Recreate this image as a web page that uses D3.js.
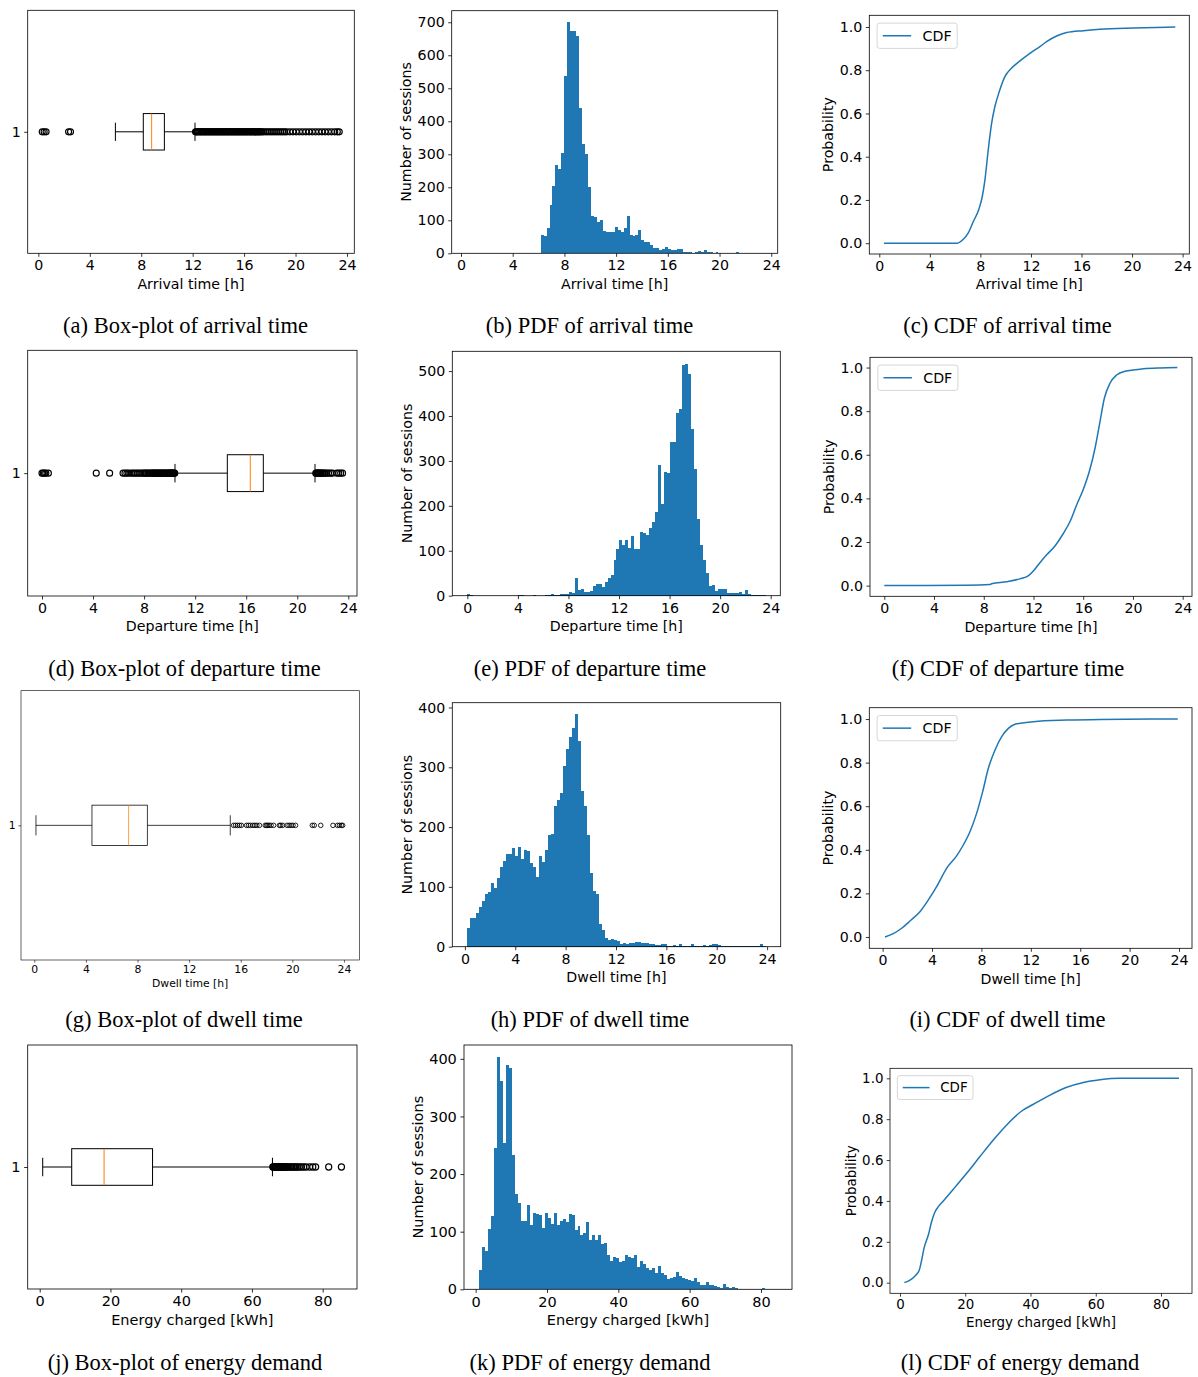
<!DOCTYPE html>
<html>
<head>
<meta charset="utf-8">
<script src="https://cdn.jsdelivr.net/npm/d3@7"></script>
<style>
  body { margin: 0; background: #fff; }
  svg { display: block; }
</style>
</head>
<body>
<svg id="chart" width="1198" height="1377"></svg>
<script>
// ---- tick labels ----
const hourTicks = [0, 4, 8, 12, 16, 20, 24];
const energyTicks = [0, 20, 40, 60, 80];
const probTicks = [0, 0.2, 0.4, 0.6, 0.8, 1.0];

// ---- box plots: [whisker low, Q1, median, Q3, whisker high] ----
const arrivalBox = [5.99, 8.16, 8.81, 9.80, 12.18];
const departureBox = [10.42, 14.52, 16.32, 17.34, 21.39];
const dwellBox = [0.13, 4.47, 7.31, 8.76, 15.19];
const energyBox = [0.85, 9.05, 18.2, 31.9, 65.8];

const arrivalFliers = [0.3, 0.45, 0.6, 2.35, 2.5,
  12.22, 12.28, 12.35, 12.42, 12.5, 12.58, 12.65, 12.72, 12.8, 12.88, 12.95, 13.02, 13.1, 13.18,
  13.25, 13.32, 13.4, 13.48, 13.55, 13.62, 13.7, 13.78, 13.85, 13.92, 14.0, 14.08, 14.15, 14.22,
  14.3, 14.38, 14.45, 14.52, 14.6, 14.68, 14.75, 14.82, 14.9, 14.98, 15.05, 15.12, 15.2, 15.28,
  15.35, 15.42, 15.5, 15.58, 15.65, 15.72, 15.8, 15.88, 15.95, 16.02, 16.1, 16.18, 16.25, 16.32,
  16.4, 16.48, 16.55, 16.62, 16.7, 16.78, 16.85, 16.92, 17.0, 17.08, 17.15, 17.22, 17.3, 17.4,
  17.5, 17.65, 17.8, 17.95, 18.1, 18.25, 18.4, 18.55, 18.7, 18.85, 19.0, 19.15, 19.3, 19.55, 19.8,
  20.05, 20.3, 20.55, 20.8, 21.05, 21.3, 21.55, 21.8, 22.05, 22.3, 22.55, 22.8, 23.05, 23.25, 23.4];
const departureFliers = [0.0, 0.1, 0.2, 0.3, 0.5, 4.25, 5.3, 6.35, 6.5, 6.65, 6.8, 7.0, 7.15, 7.3,
  7.45, 7.6, 7.75, 7.9, 8.0, 8.1, 8.2, 8.3, 8.4, 8.5, 8.6, 8.67, 8.75, 8.82, 8.9, 8.97, 9.05, 9.12,
  9.2, 9.27, 9.35, 9.42, 9.5, 9.57, 9.65, 9.72, 9.8, 9.87, 9.95, 10.0, 10.05, 10.1, 10.15, 10.2,
  10.25, 10.3, 10.35, 10.4,
  21.45, 21.5, 21.55, 21.6, 21.65, 21.7, 21.75, 21.8, 21.87, 21.95, 22.02, 22.1, 22.2, 22.3, 22.45,
  22.6, 22.75, 23.1, 23.25, 23.4, 23.55];
const dwellFliers = [15.45, 15.6, 15.75, 15.9, 16.05, 16.45, 16.6, 16.75, 16.95, 17.1, 17.25, 17.45,
  17.9, 18.0, 18.1, 18.2, 18.35, 18.55, 19.0, 19.1, 19.25, 19.6, 19.75, 19.9, 20.05, 20.25, 21.55,
  21.7, 22.2, 23.15, 23.5, 23.65, 23.8, 23.9];
const energyFliers = [65.9, 66.1, 66.3, 66.5, 66.7, 66.9, 67.1, 67.3, 67.5, 67.7, 67.9, 68.1, 68.3,
  68.5, 68.7, 68.9, 69.1, 69.3, 69.5, 69.8, 70.1, 70.5, 70.9, 71.3, 71.7, 72.1, 72.5, 72.9, 73.4,
  74.0, 74.6, 75.3, 76.3, 77.2, 78.0, 81.7, 85.3];

// ---- histograms: first bin edge, bin width, counts ----
const arrivalBinStart = 6.16, arrivalBinWidth = 0.2293;
const arrivalCounts = [55, 52, 77, 146, 204, 268, 255, 304, 538, 700, 673, 673, 658, 440, 331, 301,
  201, 113, 109, 96, 101, 69, 65, 65, 65, 80, 72, 65, 77, 112, 55, 52, 55, 71, 40, 35, 35, 25, 15,
  15, 10, 12, 19, 13, 10, 9, 12, 14, 5, 4, 4, 2, 3, 6, 4, 9, 4, 3, 2, 4, 2, 1, 1, 1, 2, 1, 4, 1, 0,
  1, 0, 1, 0, 0, 1];

const departureBinStart = 0, departureBinWidth = 0.236;
const departureCounts = [3, 1, 0, 0, 0, 0, 0, 0, 0, 0, 0, 0, 0, 0, 0, 0, 0, 1, 1, 0, 0, 0, 1, 0, 0,
  0, 1, 1, 3, 1, 1, 3, 3, 3, 8, 5, 40, 12, 14, 8, 8, 10, 21, 25, 25, 20, 31, 40, 47, 80, 105, 123,
  113, 123, 107, 132, 103, 105, 142, 140, 136, 150, 163, 187, 291, 203, 276, 274, 342, 342, 406,
  416, 513, 516, 493, 371, 282, 170, 113, 80, 50, 22, 23, 10, 14, 16, 14, 7, 5, 5, 7, 9, 3, 12, 4,
  2, 1, 1, 1, 1];

const dwellBinStart = 0.2, dwellBinWidth = 0.237;
const dwellCounts = [32, 48, 48, 56, 66, 76, 88, 92, 106, 98, 115, 133, 143, 155, 155, 165, 151, 166,
  146, 161, 160, 140, 133, 116, 151, 141, 161, 187, 188, 235, 245, 257, 302, 330, 350, 365, 389,
  344, 260, 235, 187, 123, 93, 88, 38, 28, 14, 12, 13, 12, 10, 4, 6, 4, 6, 6, 8, 8, 7, 7, 7, 4, 4, 3,
  3, 4, 4, 2, 1, 3, 2, 4, 1, 1, 2, 5, 2, 1, 1, 3, 1, 3, 4, 4, 3, 1, 1, 1, 1, 2, 2, 1, 2, 1, 1, 2, 2,
  1, 4, 2];

const energyBinStart = 1.0, energyBinWidth = 0.835;
const energyCounts = [34, 74, 67, 105, 127, 245, 403, 362, 254, 390, 384, 233, 166, 150, 119, 119,
  146, 112, 133, 131, 129, 107, 133, 124, 113, 133, 112, 119, 122, 117, 131, 129, 103, 110, 94, 98,
  117, 86, 94, 86, 94, 79, 80, 60, 49, 56, 54, 47, 49, 60, 56, 54, 60, 39, 49, 44, 37, 34, 37, 28,
  41, 28, 25, 18, 20, 21, 30, 23, 20, 18, 16, 14, 20, 13, 8, 8, 13, 8, 8, 6, 4, 2, 10, 4, 3, 4, 2,
  1, 1, 1, 1, 1, 1, 1, 1, 3, 1, 1, 0, 1];

// ---- empirical CDFs ----
const arrivalCdfX = [0.37, 6.17, 6.65, 7.03, 7.44, 7.88, 8.15, 8.36, 8.62, 8.89, 9.15, 9.49, 9.94,
  10.47, 11.13, 11.92, 12.71, 13.24, 14.03, 14.82, 16.14, 17.46, 20.1, 23.42];
const arrivalCdfY = [0, 0, 0.018, 0.046, 0.10, 0.157, 0.216, 0.293, 0.431, 0.555, 0.632, 0.70, 0.77,
  0.81, 0.843, 0.878, 0.909, 0.932, 0.958, 0.974, 0.983, 0.989, 0.995, 1.0];
const departureCdfX = [0, 6.6, 8.5, 8.63, 9.84, 10.9, 11.6, 11.99, 12.39, 13.06, 13.73, 14.4, 14.94,
  15.47, 16.01, 16.49, 16.95, 17.35, 17.7, 18.15, 18.69, 19.36, 20.84, 22.18, 23.57];
const departureCdfY = [0, 0.002, 0.005, 0.009, 0.018, 0.031, 0.046, 0.067, 0.096, 0.141, 0.182,
  0.239, 0.294, 0.37, 0.442, 0.523, 0.63, 0.752, 0.859, 0.928, 0.966, 0.983, 0.994, 0.998, 1.0];
const dwellCdfX = [0.19, 0.86, 1.54, 2.21, 3.02, 3.7, 4.37, 5.18, 5.99, 6.53, 7.07, 7.61, 8.1, 8.56,
  9.1, 9.64, 10.18, 10.72, 12.2, 14.9, 17.6, 23.9];
const dwellCdfY = [0, 0.015, 0.04, 0.073, 0.116, 0.17, 0.231, 0.315, 0.372, 0.422, 0.483, 0.567,
  0.667, 0.774, 0.858, 0.919, 0.957, 0.976, 0.988, 0.995, 0.998, 1.0];
const energyCdfX = [1.33, 3.06, 4.6, 5.92, 6.64, 7.35, 8.68, 9.7, 10.73, 11.75, 13.28, 16.34, 20.43,
  24.5, 28.6, 32.7, 37.3, 40.9, 46.0, 51.1, 56.2, 61.3, 67.4, 85.5];
const energyCdfY = [0, 0.013, 0.033, 0.062, 0.111, 0.168, 0.233, 0.299, 0.347, 0.372, 0.40, 0.457,
  0.535, 0.617, 0.698, 0.772, 0.84, 0.873, 0.918, 0.956, 0.98, 0.993, 1.0, 1.0];

const blue = "#1f77b4";
const orange = "#ff7f0e";
const sansFont = "DejaVu Sans, sans-serif";
const serifFont = "Liberation Serif, Times New Roman, serif";

// layout of the twelve panels (frame = left, top, right, bottom)
const panels = [
  { kind: "box", frame: [27.7, 10.3, 354.3, 253.3], xDomain: [-0.83, 24.57], xTicks: hourTicks,
    xLabel: "Arrival time [h]", stats: arrivalBox, fliers: arrivalFliers, fs: 14.2,
    caption: "(a) Box-plot of arrival time", capX: 185.5, capY: 333 },
  { kind: "hist", frame: [451.7, 10.7, 777.7, 253.3], xDomain: [-0.72, 24.5], yDomain: [0, 735],
    xTicks: hourTicks, yTicks: d3.range(0, 701, 100), xLabel: "Arrival time [h]",
    start: arrivalBinStart, width: arrivalBinWidth, counts: arrivalCounts, fs: 14.2,
    caption: "(b) PDF of arrival time", capX: 589.5, capY: 333 },
  { kind: "cdf", frame: [869.3, 15.3, 1189.3, 254], xDomain: [-0.79, 24.53], yDomain: [-0.05, 1.054],
    xTicks: hourTicks, xLabel: "Arrival time [h]", cx: arrivalCdfX, cy: arrivalCdfY, fs: 14.2,
    caption: "(c) CDF of arrival time", capX: 1007.5, capY: 333 },

  { kind: "box", frame: [27.7, 350.3, 357, 596], xDomain: [-1.12, 24.68], xTicks: hourTicks,
    xLabel: "Departure time [h]", stats: departureBox, fliers: departureFliers, fs: 14.2,
    caption: "(d) Box-plot of departure time", capX: 184.5, capY: 676 },
  { kind: "hist", frame: [452.3, 351.3, 780.3, 595.7], xDomain: [-1.19, 24.76], yDomain: [0, 544],
    xTicks: hourTicks, yTicks: d3.range(0, 501, 100), xLabel: "Departure time [h]",
    start: departureBinStart, width: departureBinWidth, counts: departureCounts, fs: 14.2,
    caption: "(e) PDF of departure time", capX: 590, capY: 676 },
  { kind: "cdf", frame: [870, 357.3, 1192, 596.3], xDomain: [-1.15, 24.75], yDomain: [-0.049, 1.047],
    xTicks: hourTicks, xLabel: "Departure time [h]", cx: departureCdfX, cy: departureCdfY, fs: 14.2,
    caption: "(f) CDF of departure time", capX: 1008, capY: 676 },

  { kind: "box", frame: [21, 690.7, 359.3, 960], xDomain: [-1.03, 25.19], xTicks: hourTicks,
    xLabel: "Dwell time [h]", stats: dwellBox, fliers: dwellFliers, fs: 10.8,
    caption: "(g) Box-plot of dwell time", capX: 184, capY: 1027 },
  { kind: "hist", frame: [452.3, 702.7, 780.7, 946.7], xDomain: [-1.0, 25.08], yDomain: [0, 408],
    xTicks: hourTicks, yTicks: d3.range(0, 401, 100), xLabel: "Dwell time [h]",
    start: dwellBinStart, width: dwellBinWidth, counts: dwellCounts, fs: 14.2,
    caption: "(h) PDF of dwell time", capX: 590, capY: 1027 },
  { kind: "cdf", frame: [869.3, 707.7, 1192, 948.3], xDomain: [-1.08, 25.05], yDomain: [-0.052, 1.052],
    xTicks: hourTicks, xLabel: "Dwell time [h]", cx: dwellCdfX, cy: dwellCdfY, fs: 14.2,
    caption: "(i) CDF of dwell time", capX: 1007.5, capY: 1027 },

  { kind: "box", frame: [27.7, 1045, 357, 1289], xDomain: [-3.39, 89.7], xTicks: energyTicks,
    xLabel: "Energy charged [kWh]", stats: energyBox, fliers: energyFliers, fs: 14.5,
    caption: "(j) Box-plot of energy demand", capX: 185, capY: 1370 },
  { kind: "hist", frame: [464, 1045, 792, 1289.3], xDomain: [-3.27, 88.7], yDomain: [0, 424],
    xTicks: energyTicks, yTicks: d3.range(0, 401, 100), xLabel: "Energy charged [kWh]",
    start: energyBinStart, width: energyBinWidth, counts: energyCounts, fs: 14.5,
    caption: "(k) PDF of energy demand", capX: 590, capY: 1370 },
  { kind: "cdf", frame: [890, 1068.3, 1192, 1293.3], xDomain: [-3.07, 89.5], yDomain: [-0.052, 1.049],
    xTicks: energyTicks, xLabel: "Energy charged [kWh]", cx: energyCdfX, cy: energyCdfY, fs: 13.4,
    caption: "(l) CDF of energy demand", capX: 1020, capY: 1370 }
];

const svg = d3.select("#chart");

function styleAxis(sel, fs, s) {
  sel.select(".domain").remove();
  sel.attr("font-family", sansFont).attr("font-size", fs);
  sel.selectAll(".tick line").attr("stroke", "#000").attr("stroke-width", 0.8 * s);
  sel.selectAll(".tick text").attr("fill", "#000");
}

function drawPanel(p) {
  const [l, t, r, b] = p.frame;
  const fs = p.fs;
  const s = fs / 14.2;
  const yDomain = p.kind === "box" ? [0.5, 1.5] : p.yDomain;
  const x = d3.scaleLinear().domain(p.xDomain).range([l, r]);
  const y = d3.scaleLinear().domain(yDomain).range([b, t]);
  const g = svg.append("g");
  const marks = g.append("g");

  if (p.kind === "hist") {
    const bins = p.counts.map((c, i) => ({ x0: p.start + i * p.width, x1: p.start + (i + 1) * p.width, c }))
      .filter(d => d.c > 0);
    marks.append("g")
      .attr("shape-rendering", "crispEdges")
      .selectAll("rect")
      .data(bins)
      .join("rect")
      .attr("x", d => x(d.x0))
      .attr("width", d => x(d.x1) - x(d.x0))
      .attr("y", d => y(d.c))
      .attr("height", d => y(0) - y(d.c))
      .attr("fill", blue);
  }

  if (p.kind === "box") {
    const [wlo, q1, med, q3, whi] = p.stats;
    const yc = y(1);
    const boxTop = y(1.075), boxBot = y(0.925);
    const capTop = y(1.0375), capBot = y(0.9625);
    const lw = 1 * s;
    // whiskers
    marks.selectAll("line.whisker")
      .data([[wlo, q1], [q3, whi]])
      .join("line")
      .attr("x1", d => x(d[0])).attr("x2", d => x(d[1]))
      .attr("y1", yc).attr("y2", yc)
      .attr("stroke", "#000").attr("stroke-width", lw);
    // caps
    marks.selectAll("line.cap")
      .data([wlo, whi])
      .join("line")
      .attr("x1", d => x(d)).attr("x2", d => x(d))
      .attr("y1", capTop).attr("y2", capBot)
      .attr("stroke", "#000").attr("stroke-width", lw);
    marks.append("rect")
      .attr("x", x(q1)).attr("width", x(q3) - x(q1))
      .attr("y", boxTop).attr("height", boxBot - boxTop)
      .attr("fill", "none").attr("stroke", "#000").attr("stroke-width", lw);
    marks.append("line")
      .attr("x1", x(med)).attr("x2", x(med))
      .attr("y1", boxTop).attr("y2", boxBot)
      .attr("stroke", orange).attr("stroke-width", lw);
    marks.append("g").selectAll("circle")
      .data(p.fliers)
      .join("circle")
      .attr("cx", d => x(d))
      .attr("cy", yc)
      .attr("r", 3 * s)
      .attr("fill", "none")
      .attr("stroke", "#000")
      .attr("stroke-width", 1.15 * s);
  }

  if (p.kind === "cdf") {
    const pts = p.cx.map((v, i) => [v, p.cy[i]]);
    const line = d3.line()
      .x(d => x(d[0]))
      .y(d => y(d[1]))
      .curve(d3.curveMonotoneX);
    marks.append("path")
      .attr("d", line(pts))
      .attr("fill", "none")
      .attr("stroke", blue)
      .attr("stroke-width", 1.5);
  }

  // frame
  g.append("rect")
    .attr("x", l).attr("y", t)
    .attr("width", r - l).attr("height", b - t)
    .attr("fill", "none")
    .attr("stroke", "#000")
    .attr("stroke-width", 0.8 * s);

  // x axis
  const xAxis = g.append("g")
    .attr("transform", `translate(0,${b})`)
    .call(d3.axisBottom(x).tickValues(p.xTicks).tickFormat(d3.format("d"))
      .tickSize(3.5 * s).tickPadding(3.5 * s).tickSizeOuter(0));
  styleAxis(xAxis, fs, s);

  g.append("text")
    .attr("x", (l + r) / 2)
    .attr("y", b + 7 * s + 2.0 * fs)
    .attr("text-anchor", "middle")
    .attr("font-family", sansFont)
    .attr("font-size", fs)
    .text(p.xLabel);

  // y axis
  let yAxisGen;
  if (p.kind === "box") {
    yAxisGen = d3.axisLeft(y).tickValues([1]).tickFormat(d3.format("d"));
  } else if (p.kind === "hist") {
    yAxisGen = d3.axisLeft(y).tickValues(p.yTicks).tickFormat(d3.format("d"));
  } else {
    yAxisGen = d3.axisLeft(y).tickValues(probTicks).tickFormat(d3.format(".1f"));
  }
  const yAxis = g.append("g")
    .attr("transform", `translate(${l},0)`)
    .call(yAxisGen.tickSize(3.5 * s).tickPadding(3.5 * s).tickSizeOuter(0));
  styleAxis(yAxis, fs, s);

  if (p.kind !== "box") {
    let maxW = 0;
    yAxis.selectAll(".tick text").each(function() {
      maxW = Math.max(maxW, this.getComputedTextLength());
    });
    const yLabel = p.kind === "hist" ? "Number of sessions" : "Probability";
    const lx = l - 7 * s - maxW - 3 * s - 0.24 * fs;
    const ly = (t + b) / 2;
    g.append("text")
      .attr("transform", `translate(${lx},${ly}) rotate(-90)`)
      .attr("text-anchor", "middle")
      .attr("font-family", sansFont)
      .attr("font-size", fs)
      .text(yLabel);
  }

  // legend for CDF panels
  if (p.kind === "cdf") {
    const lg = g.append("g");
    const bx = l + 0.55 * fs, by = t + 0.55 * fs;
    const txt = lg.append("text")
      .attr("font-family", sansFont)
      .attr("font-size", fs)
      .attr("dy", "0.35em")
      .text("CDF");
    const tw = txt.node().getComputedTextLength();
    const bw = 0.4 * fs + 2 * fs + 0.8 * fs + tw + 0.4 * fs;
    const bh = 1.78 * fs;
    lg.insert("rect", "text")
      .attr("x", bx).attr("y", by)
      .attr("width", bw).attr("height", bh)
      .attr("rx", 2.5).attr("ry", 2.5)
      .attr("fill", "#fff").attr("fill-opacity", 0.8)
      .attr("stroke", "#ccc").attr("stroke-width", 0.8);
    lg.insert("line", "text")
      .attr("x1", bx + 0.4 * fs).attr("x2", bx + 2.4 * fs)
      .attr("y1", by + bh / 2).attr("y2", by + bh / 2)
      .attr("stroke", blue).attr("stroke-width", 1.5);
    txt.attr("x", bx + 3.2 * fs).attr("y", by + bh / 2);
  }

  // caption
  svg.append("text")
    .attr("x", p.capX)
    .attr("y", p.capY)
    .attr("text-anchor", "middle")
    .attr("font-family", serifFont)
    .attr("font-size", 22.5)
    .attr("fill", "#000")
    .text(p.caption);
}

panels.forEach(drawPanel);
</script>
</body>
</html>
